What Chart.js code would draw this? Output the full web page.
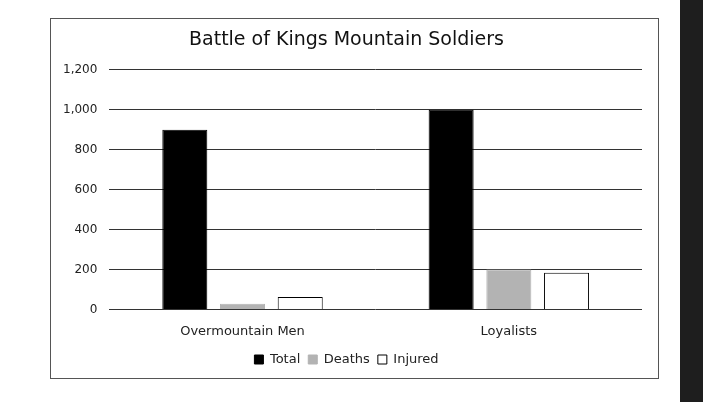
<!DOCTYPE html>
<html>
<head>
<script src="https://cdn.jsdelivr.net/npm/chart.js@4"></script>
<style>
  body { margin: 0; background: #fff; width: 703px; height: 402px; position: relative; overflow: hidden; }
  #box { position: absolute; left: 50px; top: 18px; width: 609px; height: 361px; border: 1px solid #555; box-sizing: border-box; }
  #strip { position: absolute; left: 680px; top: 0; width: 23px; height: 402px; background: #1e1e1e; }
</style>
</head>
<body>
<div id="box"><canvas id="chart"></canvas></div>
<div id="strip"></div>
<script>
const categories = ['Overmountain Men', 'Loyalists'];
const total = [900, 1000];
const deaths = [28, 200];
const injured = [62, 184];
const yTicks = [0, 200, 400, 600, 800, 1000, 1200];

const ctx = document.getElementById('chart').getContext('2d');
const font = 'DejaVu Sans';

new Chart(ctx, {
  type: 'bar',
  data: {
    labels: categories,
    datasets: [
      { label: 'Total', data: total, backgroundColor: '#000', borderColor: '#000', borderWidth: 1 },
      { label: 'Deaths', data: deaths, backgroundColor: '#b3b3b3', borderColor: '#b3b3b3', borderWidth: 1 },
      { label: 'Injured', data: injured, backgroundColor: '#fff', borderColor: '#000', borderWidth: 1 }
    ]
  },
  options: {
    responsive: true,
    maintainAspectRatio: false,
    animation: false,
    datasets: { bar: { categoryPercentage: 0.65, barPercentage: 0.78 } },
    layout: { padding: { left: 0, right: 16, top: 4, bottom: 2 } },
    plugins: {
      title: {
        display: true,
        text: 'Battle of Kings Mountain Soldiers',
        color: '#111',
        font: { family: font, size: 19, weight: 'normal' },
        padding: { top: 6, bottom: 18 }
      },
      legend: {
        position: 'bottom',
        labels: {
          color: '#222',
          font: { family: font, size: 13 },
          boxWidth: 9, boxHeight: 9, padding: 8
        }
      },
      tooltip: { enabled: false }
    },
    scales: {
      x: {
        grid: { display: false },
        border: { display: false },
        ticks: { color: '#222', font: { family: font, size: 13 }, padding: 6 }
      },
      y: {
        min: 0, max: 1200,
        afterBuildTicks: axis => { axis.ticks = yTicks.map(v => ({ value: v })); },
        grid: { color: '#333', lineWidth: 1, drawTicks: false },
        border: { display: false },
        ticks: { color: '#222', font: { family: font, size: 12 }, padding: 12 }
      }
    }
  }
});
</script>
</body>
</html>
